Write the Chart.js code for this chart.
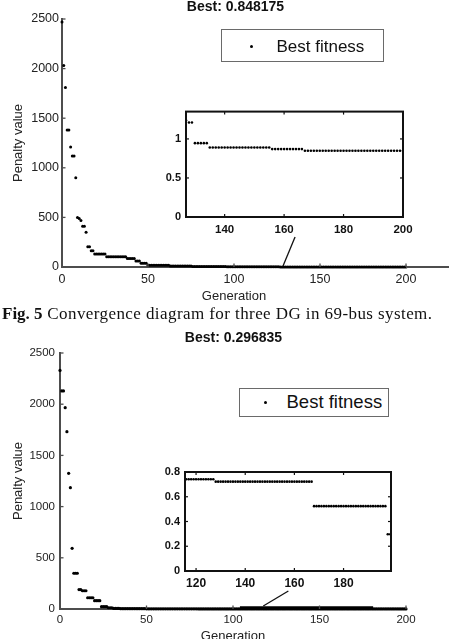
<!DOCTYPE html>
<html>
<head>
<meta charset="utf-8">
<title>Convergence diagrams</title>
<script src="https://cdn.jsdelivr.net/npm/chart.js@4.4.1/dist/chart.umd.min.js"></script>
<style>
html,body{margin:0;padding:0;background:#fff;overflow:hidden;}
#page{position:relative;width:449px;height:639px;overflow:hidden;background:#fff;}
canvas{position:absolute;display:block;}
.sans{font-family:"Liberation Sans",Arial,Helvetica,sans-serif;color:#111;}
.title{position:absolute;white-space:nowrap;line-height:1;transform:translate(-50%,-50%);font-weight:bold;font-size:14px;}
.legend{position:absolute;box-sizing:border-box;border:1.3px solid #6a6a6a;background:#fff;}
.legend .dot{position:absolute;width:3px;height:3px;border-radius:50%;background:#000;}
.legend .txt{position:absolute;white-space:nowrap;line-height:1;transform:translateY(-50%);}
.caption{position:absolute;left:2px;top:313px;transform:translateY(-50%);white-space:nowrap;line-height:1;font-family:"Liberation Serif","Times New Roman",serif;font-size:17px;color:#111;}
.caption b{letter-spacing:0;}
.caption span{letter-spacing:0.42px;}
</style>
</head>
<body>
<div id="page">
  <canvas id="fig5main" width="449" height="305" style="left:0;top:0"></canvas>
  <canvas id="fig5inset" width="270" height="140" style="left:150px;top:100px"></canvas>
  <canvas id="fig6main" width="449" height="305" style="left:0;top:340px"></canvas>
  <canvas id="fig6inset" width="260" height="135" style="left:150px;top:460px"></canvas>

  <div id="fig5title" class="title sans" style="left:235.5px;top:5.8px"></div>
  <div class="legend sans" style="left:221px;top:29px;width:163px;height:33px">
    <div class="dot" style="left:28px;top:14.5px"></div>
    <div class="txt" id="fig5legend" style="left:54.5px;top:16px;font-size:17px"></div>
  </div>

  <div class="caption"><b>Fig. 5</b><span> Convergence diagram for three DG in 69-bus system.</span></div>

  <div id="fig6title" class="title sans" style="left:233.5px;top:336.7px"></div>
  <div class="legend sans" style="left:239px;top:388px;width:150px;height:29px">
    <div class="dot" style="left:24px;top:12px"></div>
    <div class="txt" id="fig6legend" style="left:46.5px;top:13px;font-size:18.5px"></div>
  </div>
</div>

<script>
// ---------------- data ----------------
const seriesLabel = 'Best fitness';
const fig5Best = 'Best: 0.848175';
const fig6Best = 'Best: 0.296835';
const lastGeneration = 200;

const generationTicks = [0, 50, 100, 150, 200];
const penaltyTicks = [0, 500, 1000, 1500, 2000, 2500];

// Fig. 5 best fitness: generation where each plateau starts, and its value
const fig5Start = [0, 1, 2, 3, 5, 6, 8, 9, 10, 11, 12, 14, 15, 17, 19, 26, 38, 43, 46, 50, 63, 76, 96, 127, 128, 130, 135, 156, 167];
const fig5Value = [2470, 2030, 1810, 1380, 1210, 1120, 900, 500, 490, 470, 410, 350, 205, 165, 130, 103, 85, 60, 37, 18, 9, 4, 1.8, 1.24, 1.21, 0.946, 0.89, 0.87, 0.848175];

// Fig. 6 best fitness
const fig6Start = [0, 1, 3, 4, 5, 6, 7, 8, 11, 13, 16, 20, 24, 28, 31, 35, 50, 80, 116, 128, 168, 198];
const fig6Value = [2330, 2130, 1966, 1732, 1325, 1185, 593, 349, 190, 178, 110, 81, 23, 12, 6, 3, 2, 1.2, 0.741, 0.722, 0.524, 0.296835];

// inset axes
const fig5InsetRange = [127, 200, 0, 1.35];
const fig5InsetX = [140, 160, 180, 200];
const fig5InsetY = [0, 0.5, 1];
const fig6InsetRange = [115.5, 199.3, 0, 0.8];
const fig6InsetX = [120, 140, 160, 180];
const fig6InsetY = [0, 0.2, 0.4, 0.6, 0.8];

// pointer lines from inset to main axis, and zoom span marker
const fig5ArrowGen = [135.5, 128.5];
const fig5ArrowVal = [302, 10];
const fig6ArrowGen = [132, 117.5];
const fig6ArrowVal = [176, 29];
const fig6SpanGen = [104, 181];
const fig6SpanVal = [12, 12];

// ---------------- helpers ----------------
function expandRuns(starts, values, last) {
  const pts = [];
  for (let i = 0; i < starts.length; i++) {
    const end = i + 1 < starts.length ? starts[i + 1] - 1 : last;
    for (let g = starts[i]; g <= end; g++) pts.push({ x: g, y: values[i] });
  }
  return pts;
}
function pairs(xs, ys) { return xs.map((v, i) => ({ x: v, y: ys[i] })); }

const FONT = '"Liberation Sans", Arial, Helvetica, sans-serif';
Chart.defaults.font.family = FONT;
Chart.defaults.color = '#222';
const AXIS = '#4d4d4d';

const axisPlugin = {
  id: 'matlabAxes',
  beforeDraw(chart, args, o) {
    if (!o || !o.whiteBg) return;
    const a = chart.chartArea, ctx = chart.ctx;
    ctx.save(); ctx.fillStyle = '#fff';
    ctx.fillRect(a.left, a.top, a.right - a.left, a.bottom - a.top);
    ctx.restore();
  },
  afterDraw(chart, args, o) {
    if (!o) return;
    const { ctx, chartArea: a, scales: { x, y } } = chart;
    ctx.save();
    ctx.strokeStyle = o.color; ctx.lineWidth = o.width; ctx.lineCap = 'butt';
    const L = o.tickLen;
    const seg = (x1, y1, x2, y2) => { ctx.beginPath(); ctx.moveTo(x1, y1); ctx.lineTo(x2, y2); ctx.stroke(); };
    x.ticks.forEach(t => {
      const p = x.getPixelForValue(t.value);
      seg(p, a.bottom, p, a.bottom - L);
      if (o.box) seg(p, a.top, p, a.top + L);
    });
    y.ticks.forEach(t => {
      const p = y.getPixelForValue(t.value);
      seg(a.left, p, a.left + L, p);
      if (o.box) seg(a.right, p, a.right - L, p);
    });
    if (o.box) {
      ctx.lineWidth = o.boxWidth; ctx.strokeStyle = o.boxColor;
      ctx.strokeRect(a.left, a.top, a.right - a.left, a.bottom - a.top);
    }
    if (o.extendX) {
      ctx.lineWidth = 2; ctx.strokeStyle = AXIS;
      const yy = Math.round(a.bottom - 1) + 1;
      seg(a.right, yy, chart.width, yy);
    }
    ctx.restore();
  }
};

function mainChart(id, pts, extras, c) {
  return new Chart(document.getElementById(id), {
    type: 'scatter',
    data: {
      datasets: [
        { label: seriesLabel, data: pts, pointRadius: c.r, pointHoverRadius: c.r,
          pointBackgroundColor: '#000', pointBorderWidth: 0, clip: false }
      ].concat(extras)
    },
    options: {
      responsive: false, animation: false, events: [],
      layout: { padding: { top: c.padTop, right: c.padRight, left: 0, bottom: 0 } },
      plugins: {
        legend: { display: false }, tooltip: { enabled: false },
        matlabAxes: { box: false, tickLen: 3.5, color: AXIS, width: 1.3, extendX: c.extendX }
      },
      scales: {
        x: {
          type: 'linear', min: 0, max: lastGeneration,
          afterBuildTicks: s => { s.ticks = generationTicks.map(v => ({ value: v })); },
          afterFit: s => { s.height = c.xh; },
          grid: { display: false, drawTicks: false },
          border: { display: true, color: AXIS, width: 2 },
          ticks: { padding: c.xPad, color: '#222', font: { size: c.tickSize }, maxRotation: 0, autoSkip: false, callback: v => String(v) },
          title: { display: true, text: 'Generation', color: '#222', font: { size: 13 }, padding: { top: 0, bottom: c.xTitlePad } }
        },
        y: {
          type: 'linear', min: 0, max: 2500,
          afterBuildTicks: s => { s.ticks = penaltyTicks.map(v => ({ value: v })); },
          afterFit: s => { s.width = c.yw; },
          grid: { display: false, drawTicks: false },
          border: { display: true, color: AXIS, width: 2 },
          ticks: { padding: c.yPad, color: '#222', font: { size: c.tickSize }, autoSkip: false, callback: v => String(v) },
          title: { display: true, text: 'Penalty value', color: '#222', font: { size: 13 }, padding: { top: c.yTitlePad, bottom: 0 } }
        }
      }
    },
    plugins: [axisPlugin]
  });
}

function insetChart(id, pts, range, xt, yt, c) {
  return new Chart(document.getElementById(id), {
    type: 'scatter',
    data: {
      datasets: [
        { label: seriesLabel, data: pts, pointRadius: 1.3, pointHoverRadius: 1.3,
          pointBackgroundColor: '#000', pointBorderWidth: 0, clip: 0 }
      ]
    },
    options: {
      responsive: false, animation: false, events: [],
      layout: { padding: { top: c.padTop, right: c.padRight, left: 0, bottom: 0 } },
      plugins: {
        legend: { display: false }, tooltip: { enabled: false },
        matlabAxes: { box: true, whiteBg: true, tickLen: 3, color: '#111', width: 1.2, boxWidth: 2, boxColor: '#111' }
      },
      scales: {
        x: {
          type: 'linear', min: range[0], max: range[1],
          afterBuildTicks: s => { s.ticks = xt.map(v => ({ value: v })); },
          afterFit: s => { s.height = c.xh; },
          grid: { display: false, drawTicks: false },
          border: { display: false },
          ticks: { padding: c.xPad, color: '#111', font: { size: c.xSize, weight: 'bold' }, maxRotation: 0, autoSkip: false, callback: v => String(v) }
        },
        y: {
          type: 'linear', min: range[2], max: range[3],
          afterBuildTicks: s => { s.ticks = yt.map(v => ({ value: v })); },
          afterFit: s => { s.width = c.yw; },
          grid: { display: false, drawTicks: false },
          border: { display: false },
          ticks: { padding: c.yPad, color: '#111', font: { size: 11, weight: 'bold' }, autoSkip: false, callback: v => String(v) }
        }
      }
    },
    plugins: [axisPlugin]
  });
}

// ---------------- build ----------------
const fig5Points = expandRuns(fig5Start, fig5Value, lastGeneration);
const fig6Points = expandRuns(fig6Start, fig6Value, lastGeneration);

const pointerStyle = { showLine: true, pointRadius: 0, borderColor: '#111', borderWidth: 1.3, clip: false, fill: false };

mainChart('fig5main', fig5Points, [
  Object.assign({ data: pairs(fig5ArrowGen, fig5ArrowVal) }, pointerStyle)
], { padTop: 19, padRight: 43, yw: 62, xh: 38, xPad: 5, yPad: 3, tickSize: 12.5, xTitlePad: 0.5, yTitlePad: 11, r: 1.5, extendX: true });

mainChart('fig6main', fig6Points, [
  Object.assign({ data: pairs(fig6ArrowGen, fig6ArrowVal) }, pointerStyle),
  Object.assign({}, pointerStyle, { data: pairs(fig6SpanGen, fig6SpanVal), borderWidth: 3, borderColor: '#000' })
], { padTop: 13, padRight: 43, yw: 60, xh: 36, xPad: 3.5, yPad: 5, tickSize: 11.5, xTitlePad: 0.5, yTitlePad: 10.5, r: 1.6, extendX: false });

insetChart('fig5inset', fig5Points, fig5InsetRange, fig5InsetX, fig5InsetY,
  { padTop: 9, padRight: 17, yw: 36, xh: 23, xPad: 6, yPad: 5, xSize: 11.5 });
insetChart('fig6inset', fig6Points, fig6InsetRange, fig6InsetX, fig6InsetY,
  { padTop: 12, padRight: 19, yw: 35, xh: 24, xPad: 5.7, yPad: 5, xSize: 12 });

document.getElementById('fig5title').textContent = fig5Best;
document.getElementById('fig6title').textContent = fig6Best;
document.getElementById('fig5legend').textContent = seriesLabel;
document.getElementById('fig6legend').textContent = seriesLabel;
</script>
</body>
</html>
